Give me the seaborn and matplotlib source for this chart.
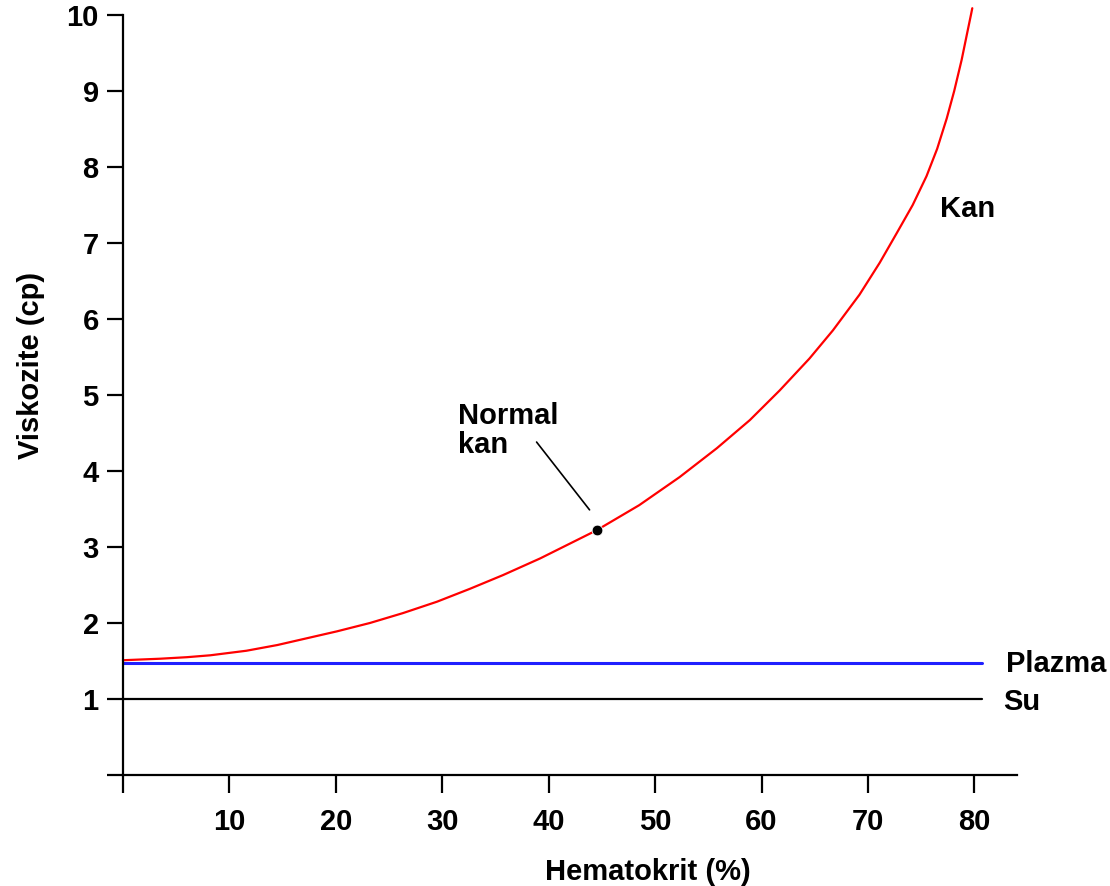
import matplotlib
matplotlib.use('Agg')
import matplotlib.pyplot as plt
import seaborn as sns

# blood viscosity vs hematocrit
hct = [0, 3.5, 6, 8.2, 11.6, 14.5, 17.3, 20.1, 23.2, 26.3, 29.5, 32.6, 35.7, 39.2,
       44.5, 48.5, 52.3, 55.8, 58.9, 61.7, 64.5, 66.7, 69.2, 71.1, 72.7, 74.2,
       75.5, 76.5, 77.4, 78.1, 78.8, 79.3, 79.7, 79.8]
blood = [1.51, 1.53, 1.55, 1.575, 1.635, 1.71, 1.80, 1.89, 2.00, 2.13, 2.28, 2.45, 2.63, 2.85,
         3.22, 3.55, 3.92, 4.30, 4.67, 5.06, 5.48, 5.85, 6.32, 6.74, 7.13, 7.50,
         7.88, 8.24, 8.64, 9.00, 9.41, 9.75, 10.02, 10.09]
ref_hct = [0, 80.7]
plasma = [1.47, 1.47]
water = [1.0, 1.0]
normal_hct = [44.5]
normal_visc = [3.22]

x_ticks = [0, 10, 20, 30, 40, 50, 60, 70, 80]
x_labels = ['', '10', '20', '30', '40', '50', '60', '70', '80']
y_ticks = [0, 1, 2, 3, 4, 5, 6, 7, 8, 9, 10]
y_labels = ['', '1', '2', '3', '4', '5', '6', '7', '8', '9', '10']

sns.set_style('ticks')
plt.rcParams['font.family'] = ['Liberation Sans', 'DejaVu Sans']
plt.rcParams['font.weight'] = 'bold'
plt.rcParams['text.color'] = 'black'
plt.rcParams['axes.labelcolor'] = 'black'
plt.rcParams['xtick.color'] = 'black'
plt.rcParams['ytick.color'] = 'black'
plt.rcParams['axes.edgecolor'] = 'black'
FS = 21

fig = plt.figure(figsize=(11.1, 8.86), dpi=100)
ax = fig.add_axes([0.1108, 0.1253, 0.8054, 0.868])

sns.lineplot(x=hct, y=blood, color='#ff0000', lw=1.6, estimator=None, ax=ax)
sns.lineplot(x=ref_hct, y=plasma, color='#2020ff', lw=2.2, estimator=None, ax=ax)
sns.lineplot(x=ref_hct, y=water, color='black', lw=1.6, estimator=None, ax=ax)
sns.scatterplot(x=normal_hct, y=normal_visc, color='black', s=60, zorder=5, ax=ax)
for line in ax.lines:
    line.set_clip_on(False)

ax.set_xlim(0, 84)
ax.set_ylim(0, 10.12)
ax.spines['left'].set_bounds(0, 10)
sns.despine(ax=ax)
for s in ['left', 'bottom']:
    ax.spines[s].set_linewidth(1.6)

ax.set_xticks(x_ticks)
ax.set_xticklabels(x_labels)
ax.set_yticks(y_ticks)
ax.set_yticklabels(y_labels)
ax.tick_params(axis='x', length=13, width=1.6, pad=11, labelsize=FS)
ax.tick_params(axis='y', length=11.5, width=1.6, pad=6, labelsize=FS)
for t in ax.get_xticklabels() + ax.get_yticklabels():
    t.set_fontweight('bold')

ax.set_xlabel('Hematokrit (%)', fontsize=FS, fontweight='bold')
ax.set_ylabel('Viskozite (cp)', fontsize=FS, fontweight='bold')
ax.xaxis.set_label_coords(0.587, -0.108)
ax.yaxis.set_label_coords(-0.087, 0.532)

ax.text(76.8, 7.34, 'Kan', fontsize=FS, fontweight='bold', ha='left', va='baseline')
ax.text(83.0, 1.355, 'Plazma', fontsize=FS, fontweight='bold', ha='left', va='baseline')
ax.text(82.7, 0.855, 'Su', fontsize=FS, fontweight='bold', ha='left', va='baseline')
ax.text(31.5, 4.24, 'Normal\nkan', fontsize=FS, fontweight='bold', ha='left',
        va='baseline', linespacing=1.05)
ax.annotate('', xy=(44.0, 3.46), xytext=(38.7, 4.41),
            arrowprops=dict(arrowstyle='-', color='black', lw=1.2))

fig.savefig('out.png', dpi=100)
